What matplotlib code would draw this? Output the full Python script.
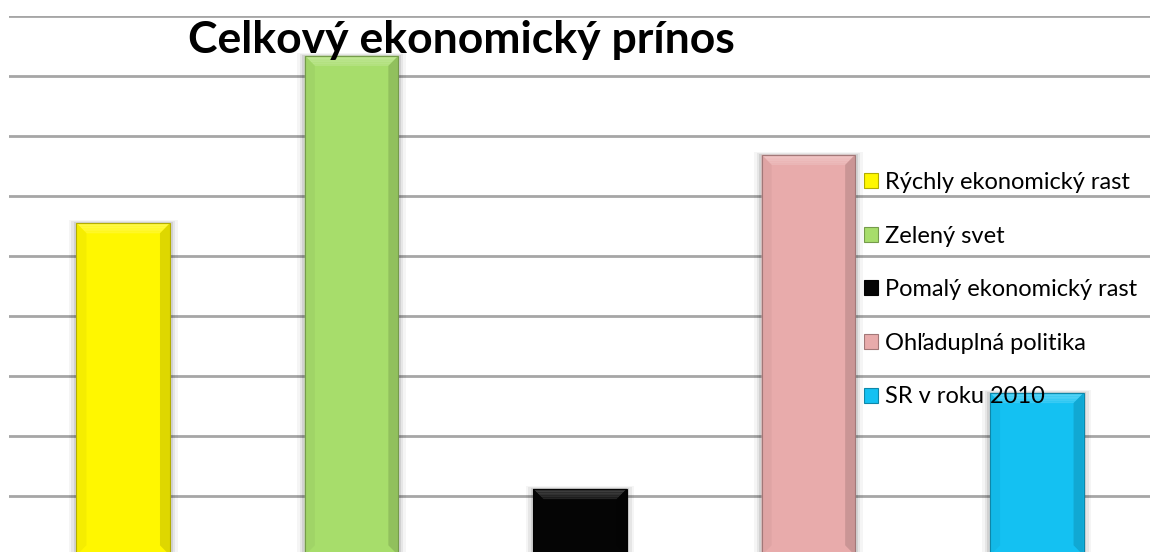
import numpy as np
import matplotlib.pyplot as plt
from matplotlib.colors import to_rgb
from matplotlib.patches import Polygon, Rectangle

plt.rcParams['font.family'] = ['Lato', 'DejaVu Sans']

# scenario names and their total contribution (grid units)
scenarios = ['Rýchly ekonomický rast', 'Zelený svet', 'Pomalý ekonomický rast',
             'Ohľaduplná politika', 'SR v roku 2010']
values = [5.54, 8.33, 1.11, 6.68, 2.71]
colors = ['#FFF700', '#A7DD6B', '#050505', '#E8ABAB', '#14C1F2']
title = 'Celkový ekonomický prínos'


def shade(c, f):
    r = np.array(to_rgb(c))
    if f >= 0:
        return tuple(r + (1 - r) * f)
    return tuple(r * (1 + f))


def bevel(ax, patch, color, dx, dy):
    x, y = patch.get_x(), patch.get_y()
    w, h = patch.get_width(), patch.get_height()
    # soft shadow around the bar
    for k, a in [(3, 0.04), (2, 0.06), (1, 0.09)]:
        ax.add_patch(Rectangle((x - k * dx * 0.25, y), w + k * dx * 0.5, h + k * dy * 0.1,
                               facecolor='black', alpha=a, lw=0, zorder=1))
    right = [(x + w, y + h), (x + w, y), (x + w - dx, y + dy), (x + w - dx, y + h - dy)]
    left = [(x, y + h), (x, y), (x + dx, y + dy), (x + dx, y + h - dy)]
    light = 0.3 if color != '#050505' else 0.25
    # lighter strip along the top edge fading into the face
    n = 6
    for i in range(n):
        t0, t1 = i / n, (i + 1) / n
        poly = [(x + dx * t0, y + h - dy * t0), (x + w - dx * t0, y + h - dy * t0),
                (x + w - dx * t1, y + h - dy * t1), (x + dx * t1, y + h - dy * t1)]
        ax.add_patch(Polygon(poly, closed=True, lw=0, zorder=3,
                             facecolor=shade(color, light * (1 - 0.6 * t0))))
    ax.add_patch(Polygon(right, closed=True, facecolor=shade(color, -0.13), lw=0, zorder=3))
    ax.add_patch(Polygon(left, closed=True, facecolor=shade(color, -0.04), lw=0, zorder=3))
    ax.add_patch(Rectangle((x, y), w, h, fill=False, edgecolor=shade(color, -0.3),
                           lw=0.8, zorder=4))


fig = plt.figure(figsize=(11.5, 5.52), dpi=100)
W, H = 1150, 552
ax = fig.add_axes([9 / W, -3.5 / H, 1142 / W, 540 / H])

x = np.arange(len(values))
bars = ax.bar(x, values, width=0.41, color=colors, zorder=2, label='_nolegend_')

ax.set_xlim(-0.5, 4.5)
ax.set_ylim(0, 9)
ax.set_yticks(np.arange(0, 10))
ax.yaxis.grid(True, color='#a6a6a6', lw=2)
ax.set_axisbelow(True)
ax.set_xticks([])
ax.tick_params(left=False, labelleft=False)
for s in ax.spines.values():
    s.set_visible(False)

for b, c in zip(bars, colors):
    bevel(ax, b, c, 0.044, 0.17)

handles = [Rectangle((0, 0), 1, 1, facecolor=c, edgecolor=shade(c, -0.3), lw=0.8)
           for c in colors]
fig.legend(handles, scenarios, loc='upper left', bbox_to_anchor=(864 / W, 1 - 172 / H),
           frameon=False, fontsize=17, handlelength=0.6, handleheight=0.6,
           handletextpad=0.3, labelspacing=1.38, borderpad=0, borderaxespad=0)

fig.text(461 / W, 1 - 40 / H, title, fontsize=32, fontweight='bold',
         ha='center', va='center')

fig.savefig('out.png', dpi=100)
